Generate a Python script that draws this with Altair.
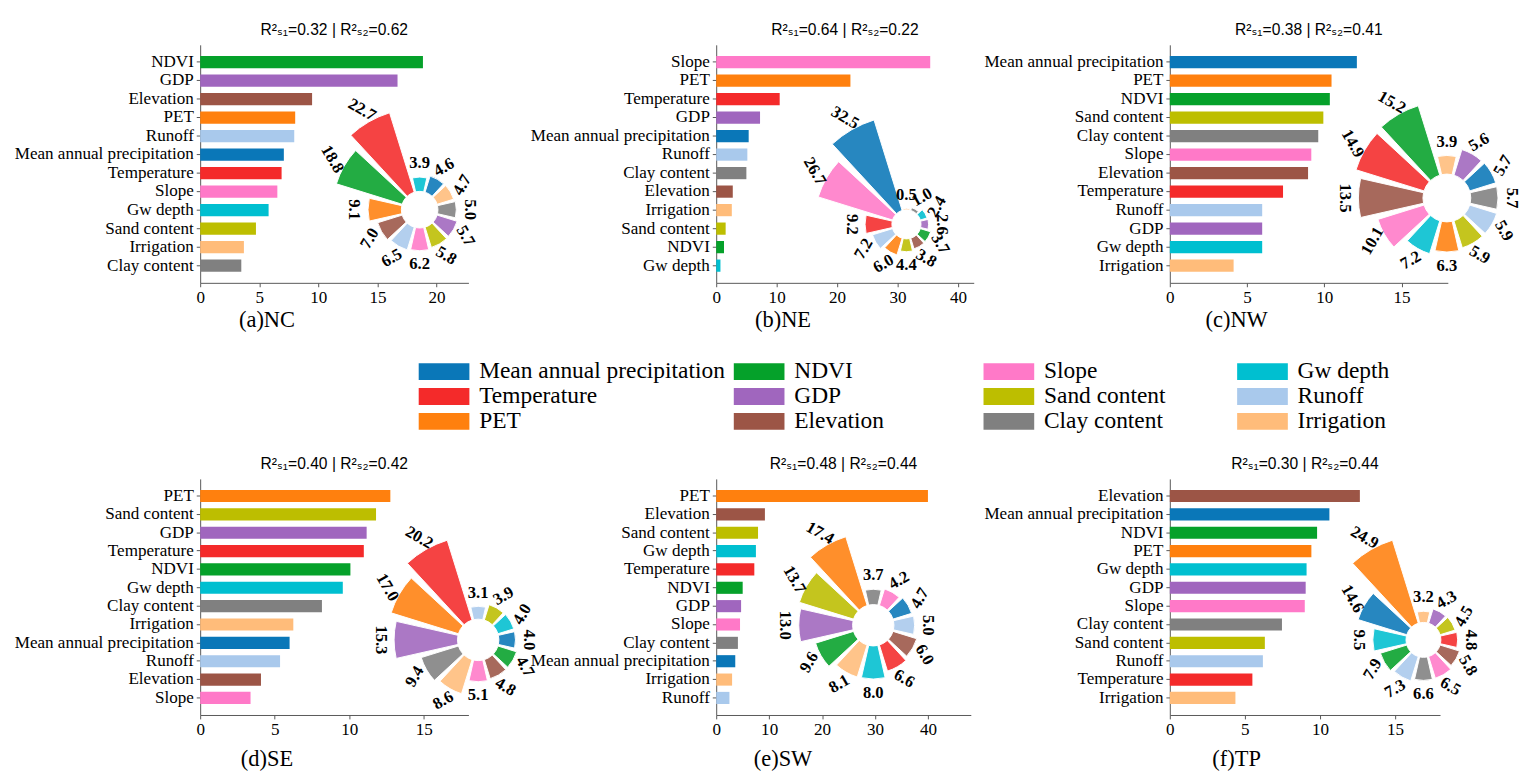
import math
import altair as alt
import pandas as pd

# ---------------- data ----------------
CATS = ["Mean annual precipitation", "Temperature", "PET", "NDVI", "GDP", "Elevation",
        "Slope", "Sand content", "Clay content", "Gw depth", "Runoff", "Irrigation"]
COLORS = ["#0a77b8", "#f42a2a", "#ff800e", "#05a12a", "#a066be", "#9c5546",
          "#ff79c8", "#bdbe00", "#808080", "#00bfd0", "#a9c9ec", "#ffbc7a"]

PANEL_LABELS = ["(a)NC", "(b)NE", "(c)NW", "(d)SE", "(e)SW", "(f)TP"]
R2_S1 = [0.32, 0.64, 0.38, 0.40, 0.48, 0.30]
R2_S2 = [0.62, 0.22, 0.41, 0.42, 0.44, 0.44]

TICKS = [[0, 5, 10, 15, 20], [0, 10, 20, 30, 40], [0, 5, 10, 15],
         [0, 5, 10, 15], [0, 10, 20, 30, 40], [0, 5, 10, 15]]

NC_BAR_NAMES = ["NDVI", "GDP", "Elevation", "PET", "Runoff", "Mean annual precipitation",
                "Temperature", "Slope", "Gw depth", "Sand content", "Irrigation", "Clay content"]
NC_BAR_VALUES = [18.85, 16.7, 9.47, 8.04, 7.96, 7.08, 6.89, 6.53, 5.79, 4.72, 3.70, 3.48]
NC_ROSE_NAMES = ["Gw depth", "Mean annual precipitation", "Irrigation", "Clay content", "GDP",
                 "Sand content", "Slope", "Runoff", "Elevation", "PET", "NDVI", "Temperature"]
NC_ROSE_VALUES = [3.9, 4.6, 4.7, 5.0, 5.7, 5.8, 6.2, 6.5, 7.0, 9.1, 18.8, 22.7]

NE_BAR_NAMES = ["Slope", "PET", "Temperature", "GDP", "Mean annual precipitation", "Runoff",
                "Clay content", "Elevation", "Irrigation", "Sand content", "NDVI", "Gw depth"]
NE_BAR_VALUES = [35.4, 22.2, 10.5, 7.25, 5.37, 5.15, 4.99, 2.74, 2.58, 1.56, 1.29, 0.70]
NE_ROSE_NAMES = ["Irrigation", "Clay content", "Gw depth", "GDP", "NDVI", "Elevation",
                 "Sand content", "PET", "Runoff", "Temperature", "Slope", "Mean annual precipitation"]
NE_ROSE_VALUES = [0.5, 1.0, 2.4, 2.6, 3.7, 3.8, 4.4, 6.0, 7.2, 9.2, 26.7, 32.5]

NW_BAR_NAMES = ["Mean annual precipitation", "PET", "NDVI", "Sand content", "Clay content", "Slope",
                "Elevation", "Temperature", "Runoff", "GDP", "Gw depth", "Irrigation"]
NW_BAR_VALUES = [12.11, 10.47, 10.36, 9.94, 9.61, 9.16, 8.95, 7.33, 5.98, 5.98, 5.98, 4.13]
NW_ROSE_NAMES = ["Irrigation", "GDP", "Mean annual precipitation", "Clay content", "Runoff",
                 "Sand content", "PET", "Gw depth", "Slope", "Elevation", "Temperature", "NDVI"]
NW_ROSE_VALUES = [3.9, 5.6, 5.7, 5.7, 5.9, 5.9, 6.3, 7.2, 10.1, 13.5, 14.9, 15.2]

SE_BAR_NAMES = ["PET", "Sand content", "GDP", "Temperature", "NDVI", "Gw depth", "Clay content",
                "Irrigation", "Mean annual precipitation", "Runoff", "Elevation", "Slope"]
SE_BAR_VALUES = [12.76, 11.8, 11.17, 10.98, 10.08, 9.57, 8.17, 6.25, 6.0, 5.36, 4.08, 3.38]
SE_ROSE_NAMES = ["Runoff", "Sand content", "Gw depth", "Mean annual precipitation", "NDVI",
                 "Elevation", "Slope", "Irrigation", "Clay content", "GDP", "PET", "Temperature"]
SE_ROSE_VALUES = [3.1, 3.9, 4.0, 4.0, 4.7, 4.8, 5.1, 8.6, 9.4, 15.3, 17.0, 20.2]

SW_BAR_NAMES = ["PET", "Elevation", "Sand content", "Gw depth", "Temperature", "NDVI", "GDP",
                "Slope", "Clay content", "Mean annual precipitation", "Irrigation", "Runoff"]
SW_BAR_VALUES = [40.0, 9.2, 7.9, 7.5, 7.2, 5.0, 4.7, 4.5, 4.1, 3.6, 3.0, 2.5]
SW_ROSE_NAMES = ["Clay content", "Slope", "Mean annual precipitation", "Runoff", "Elevation",
                 "Temperature", "Gw depth", "Irrigation", "NDVI", "GDP", "Sand content", "PET"]
SW_ROSE_VALUES = [3.7, 4.2, 4.7, 5.0, 6.0, 6.6, 8.0, 8.1, 9.6, 13.0, 13.7, 17.4]

TP_BAR_NAMES = ["Elevation", "Mean annual precipitation", "NDVI", "PET", "Gw depth", "GDP",
                "Slope", "Clay content", "Sand content", "Runoff", "Temperature", "Irrigation"]
TP_BAR_VALUES = [12.66, 10.63, 9.81, 9.43, 9.11, 9.05, 8.99, 7.47, 6.33, 6.2, 5.5, 4.37]
TP_ROSE_NAMES = ["Irrigation", "GDP", "Sand content", "Temperature", "Elevation", "Slope",
                 "Clay content", "Runoff", "NDVI", "Gw depth", "Mean annual precipitation", "PET"]
TP_ROSE_VALUES = [3.2, 4.3, 4.5, 4.8, 5.8, 6.5, 6.6, 7.3, 7.9, 9.5, 14.6, 24.9]

# ---------------- layout / style ----------------
SERIF = "Liberation Serif"
SANS = "Liberation Sans Narrow, Liberation Sans, DejaVu Sans, sans-serif"
AXC = "#555555"
BASE = 5.0  # inner offset of rose bars (data units)
HALF_W = 0.425  # half angular width of a rose bar (in slots)
RECT = "M-1.5,-0.5L1.5,-0.5L1.5,0.5L-1.5,0.5Z"

LAYOUT = [
    dict(cell_w=498, axis_len=275, xmax=22.7, h=244, cx=225, cy=169, R=104, cap_x=68, cap_y=38),
    dict(cell_w=465, axis_len=264, xmax=42.6, h=244, cx=195, cy=184, R=112, cap_x=68, cap_y=38),
    dict(cell_w=285, axis_len=285, xmax=18.0, h=244, cx=284, cy=157, R=99, cap_x=68, cap_y=38),
    dict(cell_w=529, axis_len=275, xmax=18.0, h=242, cx=285, cy=165, R=107, cap_x=68, cap_y=45),
    dict(cell_w=453, axis_len=261, xmax=48.1, h=242, cx=161, cy=150, R=95, cap_x=68, cap_y=45),
    dict(cell_w=277, axis_len=277, xmax=18.0, h=242, cx=260, cy=165, R=107, cap_x=68, cap_y=45),
]
LEG_X = [250, 573, 829, 1089]
LEG_Y = [335, 386]

COLOR = alt.Color("name:N", scale=alt.Scale(domain=CATS, range=COLORS), legend=None)


def make_panel(k, bar_names, bar_vals, rose_names, rose_vals, with_legend=False):
    L = LAYOUT[k]
    bars_df = pd.DataFrame({"name": bar_names, "value": bar_vals})
    rose_df = pd.DataFrame({"idx": list(range(len(rose_names))), "name": rose_names, "value": rose_vals})

    bars = alt.Chart(bars_df).mark_bar().encode(
        y=alt.Y("name:N",
                scale=alt.Scale(domain=bar_names, paddingInner=0.34, paddingOuter=0.6),
                axis=alt.Axis(title=None, labelFont=SERIF, labelFontSize=17.5, labelColor="black",
                              labelLimit=320, labelPadding=3, tickSize=4, tickColor=AXC,
                              domainColor=AXC)),
        x=alt.X("value:Q",
                scale=alt.Scale(domain=[0, L["xmax"]], range=[0, L["axis_len"]], nice=False, zero=True),
                axis=alt.Axis(values=TICKS[k], title=PANEL_LABELS[k], titleX=L["cap_x"], titleY=L["cap_y"],
                              titleAlign="center", titleBaseline="middle", titleFont=SERIF,
                              titleFontSize=23, titleFontWeight="normal", titleColor="black",
                              labelFont=SERIF, labelFontSize=17.5, labelColor="black", labelPadding=2,
                              labelFlush=False, tickSize=4, tickColor=AXC, domainColor=AXC, grid=False)),
        color=COLOR,
    )

    base = (alt.Chart(rose_df)
            .transform_calculate(t0="datum.idx - " + str(HALF_W))
            .transform_calculate(t1="datum.idx + " + str(HALF_W))
            .transform_calculate(tc="datum.idx")
            .transform_calculate(r0=str(BASE))
            .transform_calculate(r1="datum.value + " + str(BASE))
            .transform_calculate(th="datum.idx * 30")
            .transform_calculate(ang="(datum.th < 90 || datum.th >= 270) ? (360 - datum.th) % 360 : (540 - datum.th) % 360")
            .transform_calculate(lab="format(datum.value, '.1f')"))
    rscale = alt.Scale(type="linear", domain=[0, BASE + max(rose_vals)], range=[0, L["R"]], zero=True, nice=False)
    tscale = alt.Scale(type="linear", domain=[0, 12], range=[0, 2 * math.pi], nice=False, zero=True)

    arcs = base.mark_arc(stroke="white", strokeWidth=1, opacity=0.88).encode(
        theta=alt.Theta("t0:Q", scale=tscale, stack=False),
        theta2=alt.Theta2("t1"),
        radius=alt.Radius("r1:Q", scale=rscale),
        radius2=alt.Radius2("r0"),
        x=alt.value(L["cx"]), y=alt.value(L["cy"]),
        color=COLOR,
    )
    labels = base.mark_text(radiusOffset=14, font=SERIF, fontWeight="bold", fontSize=17,
                            align="center", baseline="middle", color="black").encode(
        theta=alt.Theta("tc:Q", scale=tscale, stack=False),
        radius=alt.Radius("r1:Q", scale=rscale),
        angle=alt.Angle("ang:Q", scale=None),
        text=alt.Text("lab:N"),
        x=alt.value(L["cx"]), y=alt.value(L["cy"]),
    )

    layers = [bars, arcs, labels]
    if with_legend:
        leg_df = pd.DataFrame({"name": CATS, "idx": list(range(len(CATS)))})
        legb = (alt.Chart(leg_df)
                .transform_calculate(col="floor(datum.idx / 3)")
                .transform_calculate(row="datum.idx % 3"))
        lx = alt.Scale(domain=[0, 1, 2, 3], range=LEG_X, nice=False, zero=False)
        ly = alt.Scale(domain=[0, 2], range=LEG_Y, nice=False, zero=False)
        pts = legb.mark_point(shape=RECT, filled=True, size=1200, opacity=1, strokeWidth=0).encode(
            x=alt.X("col:Q", scale=lx, axis=None),
            y=alt.Y("row:Q", scale=ly, axis=None),
            color=COLOR,
        )
        txt = legb.mark_text(align="left", baseline="middle", dx=36, font=SERIF, fontSize=24,
                             color="black").encode(
            x=alt.X("col:Q", scale=lx, axis=None),
            y=alt.Y("row:Q", scale=ly, axis=None),
            text=alt.Text("name:N"),
        )
        layers += [pts, txt]

    title = alt.TitleParams(
        text="R²ₛ₁=%.2f | R²ₛ₂=%.2f" % (R2_S1[k], R2_S2[k]),
        anchor="start", frame="group", align="center", dx=L["axis_len"] / 2, offset=7,
        font=SANS, fontSize=16, fontWeight="normal", color="black")

    layer = alt.layer(*layers).properties(width=L["cell_w"], height=L["h"], title=title)
    if with_legend:
        layer = layer.resolve_scale(x="independent", y="independent")
    return layer


panels = [
    make_panel(0, NC_BAR_NAMES, NC_BAR_VALUES, NC_ROSE_NAMES, NC_ROSE_VALUES, with_legend=True),
    make_panel(1, NE_BAR_NAMES, NE_BAR_VALUES, NE_ROSE_NAMES, NE_ROSE_VALUES),
    make_panel(2, NW_BAR_NAMES, NW_BAR_VALUES, NW_ROSE_NAMES, NW_ROSE_VALUES),
    make_panel(3, SE_BAR_NAMES, SE_BAR_VALUES, SE_ROSE_NAMES, SE_ROSE_VALUES),
    make_panel(4, SW_BAR_NAMES, SW_BAR_VALUES, SW_ROSE_NAMES, SW_ROSE_VALUES),
    make_panel(5, TP_BAR_NAMES, TP_BAR_VALUES, TP_ROSE_NAMES, TP_ROSE_VALUES),
]

chart = (alt.concat(*panels, columns=3, spacing={"row": 201, "column": 0}, align="none", bounds="flush")
         .resolve_scale(x="independent", y="independent", theta="independent", radius="independent")
         .properties(padding={"left": 6, "top": 5, "right": 0, "bottom": 5}, background="white")
         .configure_axis(labelFont=SERIF, titleFont=SERIF)
         .configure_view(strokeWidth=0))

chart.save("out.html", embed_options={"renderer": "svg", "actions": False})
